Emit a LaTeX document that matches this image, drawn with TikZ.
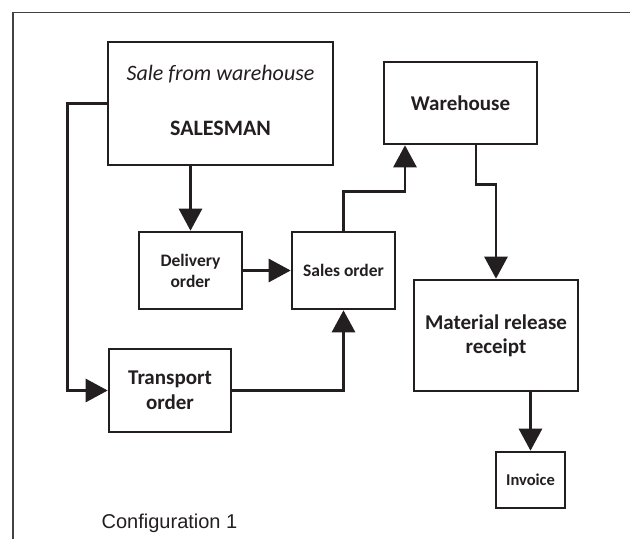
\documentclass[tikz,border=0pt]{standalone}
\usepackage{fontspec}
\setmainfont{Carlito}
\newfontfamily\capfont{Liberation Sans}
\usetikzlibrary{arrows.meta}
\definecolor{ink}{RGB}{35,31,32}
\tikzset{
  box/.style={draw=ink, line width=2.6pt, rectangle, align=center, inner sep=0pt, text=ink},
  flow/.style={draw=ink, line width=2.8pt, -{Triangle[length=22pt,width=23pt]}},
}
\begin{document}
\begin{tikzpicture}[x=1pt,y=-1pt]
\useasboundingbox (0,0) rectangle (630,539);
\fill[white] (0,0) rectangle (630,539);
% frame
\draw[line width=1.4pt, draw=ink!85] (13,539) -- (13,12.5) -- (630,12.5);

\node[box, minimum width=225pt, minimum height=123pt] (salesman) at (220.5,103.5) {};
\node[text=ink, font=\fontsize{22}{26}\selectfont\itshape] (saletxt) at (220.5,74) {Sale from warehouse};
\node[text=ink, font=\fontsize{22}{26}\selectfont\bfseries] (salesmantxt) at (220.5,128) {SALESMAN};

\node[box, minimum width=153pt, minimum height=82pt, font=\fontsize{21}{25}\selectfont\bfseries] (warehouse) at (460.5,103) {Warehouse};
\node[box, minimum width=103pt, minimum height=77pt, font=\fontsize{17.5}{21}\selectfont\bfseries] (delivery) at (190.5,270.5) {Delivery\\order};
\node[box, minimum width=103pt, minimum height=77pt, font=\fontsize{17.5}{21}\selectfont\bfseries] (sales) at (343.5,270.5) {Sales order};
\node[box, minimum width=122pt, minimum height=83pt, font=\fontsize{21}{25}\selectfont\bfseries] (transport) at (170,390.5) {Transport\\order};
\node[box, minimum width=164pt, minimum height=111pt, font=\fontsize{21}{24}\selectfont\bfseries] (material) at (496,335.5) {Material release\\receipt};
\node[box, minimum width=69pt, minimum height=56pt, font=\fontsize{16.5}{20}\selectfont\bfseries] (invoice) at (530.5,480) {Invoice};

\node[text=ink, font=\capfont\fontsize{20}{24}\selectfont] (caption) at (169.5,523) {Configuration 1};

\draw[flow] (delivery.north |- salesman.south) -- (delivery.north);
\draw[flow] (salesman.west) -- ++(-39.5,0) |- (transport.west);
\draw[flow] (delivery.east) -- (sales.west);
\draw[flow] (transport.east) -| (sales.south);
\draw[flow] (sales.north) -- ++(0,-39) -| ([xshift=-55.5pt]warehouse.south);
\draw[flow] ([xshift=15.5pt]warehouse.south) -- ++(0,39) -| (material.north);
\draw[flow] (material.south -| invoice.north) -- (invoice.north);
\end{tikzpicture}
\end{document}
